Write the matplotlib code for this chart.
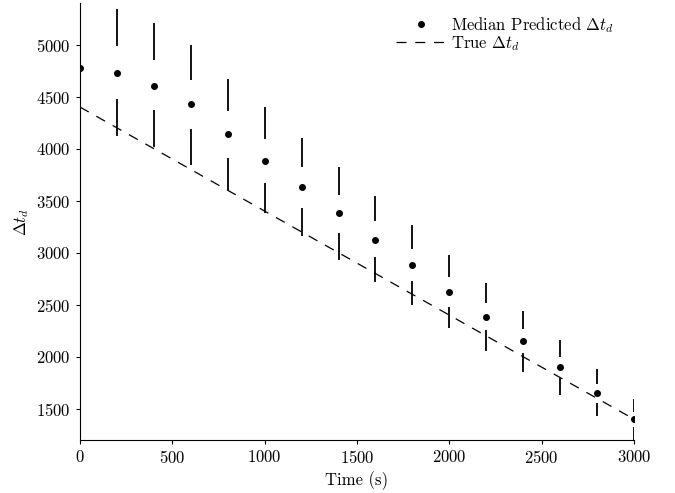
import matplotlib
matplotlib.use("Agg")
import matplotlib.pyplot as plt

plt.rcParams['font.family'] = 'serif'
plt.rcParams['font.serif'] = ['cmr10', 'DejaVu Serif']
plt.rcParams['mathtext.fontset'] = 'cm'
plt.rcParams['axes.formatter.use_mathtext'] = True

times = [0, 200, 400, 600, 800, 1000, 1200, 1400, 1600, 1800, 2000, 2200, 2400, 2600, 2800, 3000]
median = [4780, 4730, 4607, 4428, 4137, 3885, 3629, 3380, 3127, 2881, 2619, 2385, 2152, 1900, 1651, 1404]
upper_top = [5420, 5342, 5208, 4997, 4671, 4399, 4105, 3823, 3545, 3264, 2977, 2705, 2443, 2162, 1881, 1598]
upper_start = [4990, 4984, 4856, 4664, 4358, 4096, 3823, 3559, 3306, 3034, 2763, 2514, 2267, 2002, 1740, 1469]
lower_start = [4511, 4473, 4367, 4185, 3914, 3670, 3434, 3194, 2955, 2727, 2481, 2257, 2034, 1795, 1560, 1325]
lower_bottom = [4156, 4121, 4015, 3840, 3607, 3377, 3159, 2929, 2721, 2497, 2274, 2059, 1858, 1634, 1426, 1190]
true_vals = [4400, 4200, 4000, 3800, 3600, 3400, 3200, 3000, 2800, 2600, 2400, 2200, 2000, 1800, 1600, 1400]

fig = plt.figure(figsize=(6.75, 4.93), dpi=100)
ax = fig.add_axes([0.1185, 0.1075, 0.8208, 0.8864])

ax.vlines(times, upper_start, upper_top, color='k', lw=1.3)
ax.vlines(times, lower_bottom, lower_start, color='k', lw=1.3)
ax.plot(times, median, 'o', color='k', ms=4, label=r'Median Predicted $\Delta t_d$')
ax.plot(times, true_vals, color='k', lw=0.9, ls=(0, (8, 7)), label=r'True $\Delta t_d$')

ax.set_xlim(0, 3000)
ax.set_ylim(1200, 5400)
ax.set_xticks([0, 500, 1000, 1500, 2000, 2500, 3000])
ax.set_yticks([1500, 2000, 2500, 3000, 3500, 4000, 4500, 5000])
ax.spines['top'].set_visible(False)
ax.spines['right'].set_visible(False)
ax.tick_params(direction='out', length=3, labelsize=12)
ax.set_xlabel('Time (s)', fontsize=12)
ax.set_ylabel(r'$\Delta t_d$', fontsize=12)

ax.legend(loc='upper right', bbox_to_anchor=(0.985, 1.0), frameon=False, fontsize=12,
          handlelength=3, borderaxespad=0.3, labelspacing=-0.05, handletextpad=0.3)

fig.savefig('out.png', dpi=100)
